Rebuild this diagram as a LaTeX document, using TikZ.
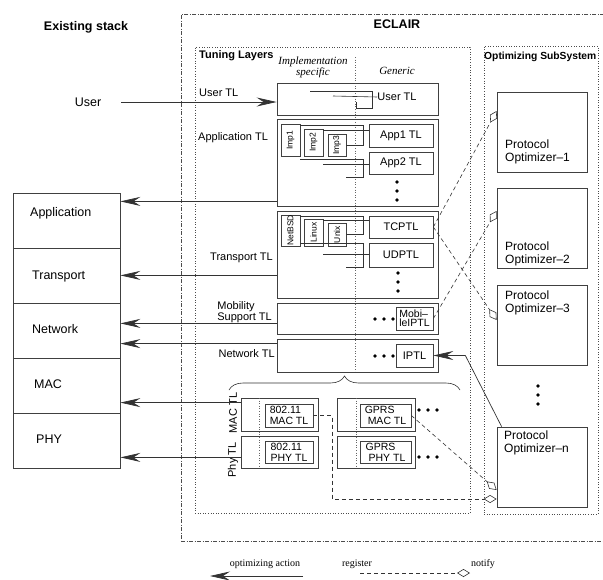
\documentclass[tikz,border=0pt]{standalone}
\usepackage{fontspec}
\usepackage{graphicx}
\setmainfont{Liberation Serif}
\setsansfont{Liberation Sans}
\usetikzlibrary{arrows.meta,decorations.pathreplacing}

\tikzset{
  frame/.style={draw=black!70,line width=0.6pt,inner sep=0pt},
  stack/.style={draw=black!75,line width=0.8pt,inner sep=0pt,minimum width=107pt,minimum height=55pt},
  tlayer/.style={draw=black!75,line width=0.8pt,inner sep=0pt,minimum width=161pt},
  subbox/.style={draw=black!75,line width=0.8pt,inner sep=0pt,minimum width=77pt},
  ibox/.style={draw=black!75,line width=0.7pt,inner sep=0pt,font=\sffamily\fontsize{11}{11}\selectfont},
  impbox/.style={ibox,minimum width=19pt,font=\sffamily\fontsize{8.5}{9}\selectfont},
  phybox/.style={ibox,align=left,font=\sffamily\fontsize{10.5}{11}\selectfont},
  optbox/.style={draw=black!75,line width=0.8pt,inner sep=0pt,minimum width=90pt,minimum height=80pt},
  lab/.style={inner sep=0pt,font=\sffamily\fontsize{11}{10.5}\selectfont},
  stklab/.style={inner sep=0pt,anchor=west,font=\sffamily\fontsize{12.5}{14}\selectfont},
  optlab/.style={inner sep=0pt,align=left,anchor=west,font=\sffamily\fontsize{12}{13}\selectfont},
  ttl/.style={inner sep=0pt,font=\sffamily\bfseries\fontsize{11}{12}\selectfont},
  slant/.style={inner sep=0pt,align=center,font=\itshape\fontsize{11}{9.5}\selectfont},
  legend/.style={inner sep=0pt,font=\fontsize{10}{12}\selectfont},
  act/.style={draw=black!80,line width=0.7pt,-{Stealth[length=20pt,width=9pt,inset=7pt]}},
  reg/.style={draw=black!80,line width=0.6pt,dash pattern=on 4pt off 3pt,-{Diamond[open,length=13pt,width=8pt]}},
  divline/.style={draw=black!60,line width=0.6pt,dotted},
}

\begin{document}
\begin{tikzpicture}[x=1pt,y=-1pt]
\useasboundingbox (0,0) rectangle (603,579);

% frames
\node[frame,dash pattern=on 4pt off 1.5pt on 1pt off 1.5pt,minimum width=428pt,minimum height=527pt] (eclair) at (395,277.5) {};
\node[frame,dotted,minimum width=275pt,minimum height=466pt] (tlframe) at (332.5,280) {};
\node[frame,dotted,minimum width=114pt,minimum height=468pt] (osframe) at (541,280) {};

\node[ttl,font=\sffamily\bfseries\fontsize{12.5}{14}\selectfont] (teclair) at (397,24) {ECLAIR};
\node[ttl,font=\sffamily\bfseries\fontsize{12.5}{14}\selectfont] (tstack) at (86,27) {Existing stack};
\node[ttl,anchor=west] (ttune) at (199,56) {Tuning Layers};
\node[ttl,anchor=west,font=\sffamily\bfseries\fontsize{10.3}{12}\selectfont] (topt) at (484,57) {Optimizing SubSystem};
\node[slant] (timpl) at (313,67) {Implementation\\specific};
\node[slant] (tgen) at (397,71) {Generic};

% existing stack
\node[stack] (app) at (66.5,220.5) {};
\node[stack] (trans) at (66.5,275.5) {};
\node[stack] (net) at (66.5,330.5) {};
\node[stack] (mac) at (66.5,385.5) {};
\node[stack] (phy) at (66.5,440.5) {};
\node[stklab] (lapp) at (30,213) {Application};
\node[stklab] (ltrans) at (32,276) {Transport};
\node[stklab] (lnet) at (32,329) {Network};
\node[stklab] (lmac) at (34,384) {MAC};
\node[stklab] (lphy) at (36,439) {PHY};
\node[stklab,anchor=center] (user) at (88,102) {User};

% tuning layers
\draw[divline] (355,57) -- (355,372);
\node[tlayer,minimum height=32pt] (usertl) at (357.5,99) {};
\node[tlayer,minimum height=87pt] (apptl) at (357.5,162.5) {};
\node[tlayer,minimum height=87pt] (transtl) at (357.5,254.5) {};
\node[tlayer,minimum height=31pt] (mobtl) at (357.5,318.5) {};
\node[tlayer,minimum height=33pt] (nettl) at (357.5,355.5) {};

\node[lab,anchor=west] (tuser) at (199,93) {User TL};
\node[lab,anchor=west] (tapp) at (198,138) {Application TL};
\node[lab,anchor=east] (ttrans) at (273,258) {Transport TL};
\node[lab,anchor=east,align=left] (tmob) at (272,312) {Mobility\\Support TL};
\node[lab,anchor=east] (tnet) at (275,354) {Network TL};

% user TL
\node[lab] (utext) at (397,97) {User TL};
\coordinate (uin) at (333,96);
\draw[black!80,line width=0.6pt] (310,91) -| (372,108) -- (356,108) -- (356,102);
\draw[black!80,line width=0.6pt] (uin) -- (utext.west);

% application TL
\node[impbox,minimum height=32pt] (imp1) at (290.5,140) {\rotatebox{90}{Imp1}};
\node[impbox,minimum height=27pt] (imp2) at (313.5,142.5) {\rotatebox{90}{Imp2}};
\node[impbox,minimum width=18pt,minimum height=22pt] (imp3) at (337,145) {\rotatebox{90}{Imp3}};
\node[ibox,minimum width=64pt,minimum height=23pt] (app1) at (401,135.5) {App1 TL};
\node[ibox,minimum width=64pt,minimum height=22pt] (app2) at (401,163) {App2 TL};
\draw[black!80,line width=0.6pt] ([yshift=-2pt]imp1.north east) -- ++(63,0) |- (imp3.east);
\draw[black!80,line width=0.6pt] ([yshift=-2pt]imp2.north east) -- ++(46,0);
\draw[black!80,line width=0.6pt] ([yshift=-3pt]imp1.south east) -- ++(63,0) |- ([yshift=-21pt]imp3.south east);
\draw[black!80,line width=0.6pt] ([yshift=-8pt]imp2.south east) -- ++(46,0);
\foreach \y in {182,191,200} \fill (397,\y) circle (1.8pt);

% transport TL
\node[impbox,minimum height=31pt] (netbsd) at (290.5,230.5) {\rotatebox{90}{NetBSD}};
\node[impbox,minimum height=27pt] (linux) at (313.5,232.5) {\rotatebox{90}{Linux}};
\node[impbox,minimum width=18pt,minimum height=23pt] (unix) at (337,234.5) {\rotatebox{90}{Unix}};
\node[ibox,minimum width=64pt,minimum height=22pt] (tcp) at (401,227) {TCPTL};
\node[ibox,minimum width=64pt,minimum height=24pt] (udp) at (401,255) {UDPTL};
\draw[black!80,line width=0.6pt] ([yshift=-2pt]netbsd.north east) -- ++(63,0) |- (unix.east);
\draw[black!80,line width=0.6pt] ([yshift=-2pt]linux.north east) -- ++(46,0);
\draw[black!80,line width=0.6pt] ([yshift=3pt]netbsd.south east) -- ++(63,0) |- ([yshift=-21pt]unix.south east);
\draw[black!80,line width=0.6pt] ([yshift=-8pt]linux.south east) -- ++(46,0);
\foreach \y in {273,282,291} \fill (398,\y) circle (1.8pt);

% mobility and network TL
\node[ibox,minimum width=37pt,minimum height=23pt,align=left,font=\sffamily\fontsize{10.5}{9}\selectfont] (mobip) at (414.5,318.5) {Mobi--\\leIPTL};
\node[ibox,minimum width=37pt,minimum height=23pt] (iptl) at (414.5,355.5) {IPTL};
\foreach \x in {375,384,393} {
  \fill (\x,319) circle (1.8pt);
  \fill (\x,356) circle (1.8pt);
}

% MAC and PHY TL
\draw[decorate,decoration={brace,amplitude=14pt},black!80,line width=0.6pt] (229,390) -- (460,390);
\node[subbox,minimum height=33pt] (macl) at (279.5,414.5) {};
\node[subbox,minimum width=78pt,minimum height=33pt] (macr) at (376,414.5) {};
\node[subbox,minimum height=32pt] (phyl) at (279.5,452) {};
\node[subbox,minimum width=78pt,minimum height=32pt] (phyr) at (376,452) {};
\draw[divline] (259,398) -- (259,468);
\draw[divline] (356,398) -- (356,468);
\node[phybox,minimum width=48pt,minimum height=23pt] (mac80) at (289,415.5) {802.11\\MAC TL};
\node[phybox,minimum width=51pt,minimum height=23pt] (macgp) at (385.5,415.5) {GPRS\\\hspace{3pt}MAC TL};
\node[phybox,minimum width=48pt,minimum height=22pt] (phy80) at (289,452) {802.11\\PHY TL};
\node[phybox,minimum width=51pt,minimum height=22pt] (phygp) at (385.5,452) {GPRS\\\hspace{3pt}PHY TL};
\foreach \x in {419,428,437} {
  \fill (\x,410) circle (1.8pt);
  \fill (\x,457) circle (1.8pt);
}
\node[lab,rotate=90] (tmac) at (233,413) {MAC TL};
\node[lab,rotate=90] (tphy) at (233,460) {Phy TL};

% optimizers
\node[optbox] (po1) at (542,132) {};
\node[optbox] (po2) at (542,228) {};
\node[optbox] (po3) at (542,325) {};
\node[optbox] (pon) at (542,467) {};
\node[optlab] (lpo1) at (505,151.5) {Protocol\\Optimizer--1};
\node[optlab] (lpo2) at (505,254) {Protocol\\Optimizer--2};
\node[optlab] (lpo3) at (505,302.5) {Protocol\\Optimizer--3};
\node[optlab] (lpon) at (504,442.5) {Protocol\\Optimizer--n};
\foreach \y in {386,395,404} \fill (538,\y) circle (1.8pt);

% optimizing actions
\coordinate (a1) at ([yshift=5pt]apptl.south west);
\coordinate (a2) at ([yshift=23pt]transtl.south west);
\coordinate (a3) at ([yshift=11pt]mobtl.south west);
\coordinate (a4) at ([yshift=-5pt]nettl.north west);
\coordinate (a5) at ([yshift=-5pt]macl.north west);
\coordinate (a6) at ([yshift=11pt]phyl.south west);
\draw[act] ([xshift=20pt]user.east) -- (usertl.west |- user.east);
\draw[act] (a1) -- (a1 -| app.east);
\draw[act] (a2) -- (a2 -| trans.east);
\draw[act] (a3) -- (a3 -| net.east);
\draw[act] (a4) -- (a4 -| net.east);
\draw[act] (a5) -- (a5 -| mac.east);
\draw[act] (a6) -- (a6 -| phy.east);
\draw[act] ([xshift=5pt]pon.north west) -- ([xshift=32pt]iptl.east) -- (iptl.east);

% register / notify
\coordinate (r1) at ([yshift=21pt]po1.west);
\coordinate (r2) at ([yshift=17pt]po2.west);
\coordinate (r3) at ([yshift=5pt]po3.west);
\coordinate (r4) at ([yshift=-23pt]pon.west);
\coordinate (r5) at ([yshift=-32pt]pon.west);
\draw[reg] (tcp.east) -- (r1);
\draw[reg] (tcp.east) -- (r3);
\draw[reg] (mobip.east) -- (r2);
\draw[reg] (macgp.east) -- (r4);
\draw[reg] (mac80.east) -- ++(19,0) |- (r5);

% legend
\node[legend] (lact) at (265,564) {optimizing action};
\node[legend] (lreg) at (357,564) {register};
\node[legend] (lnot) at (483,564) {notify};
\coordinate (la1) at (303,576);
\coordinate (la2) at (210,576);
\coordinate (lr1) at (360,573);
\coordinate (lr2) at (470,573);
\draw[act] (la1) -- (la2);
\draw[reg] (lr1) -- (lr2);
\end{tikzpicture}
\end{document}
